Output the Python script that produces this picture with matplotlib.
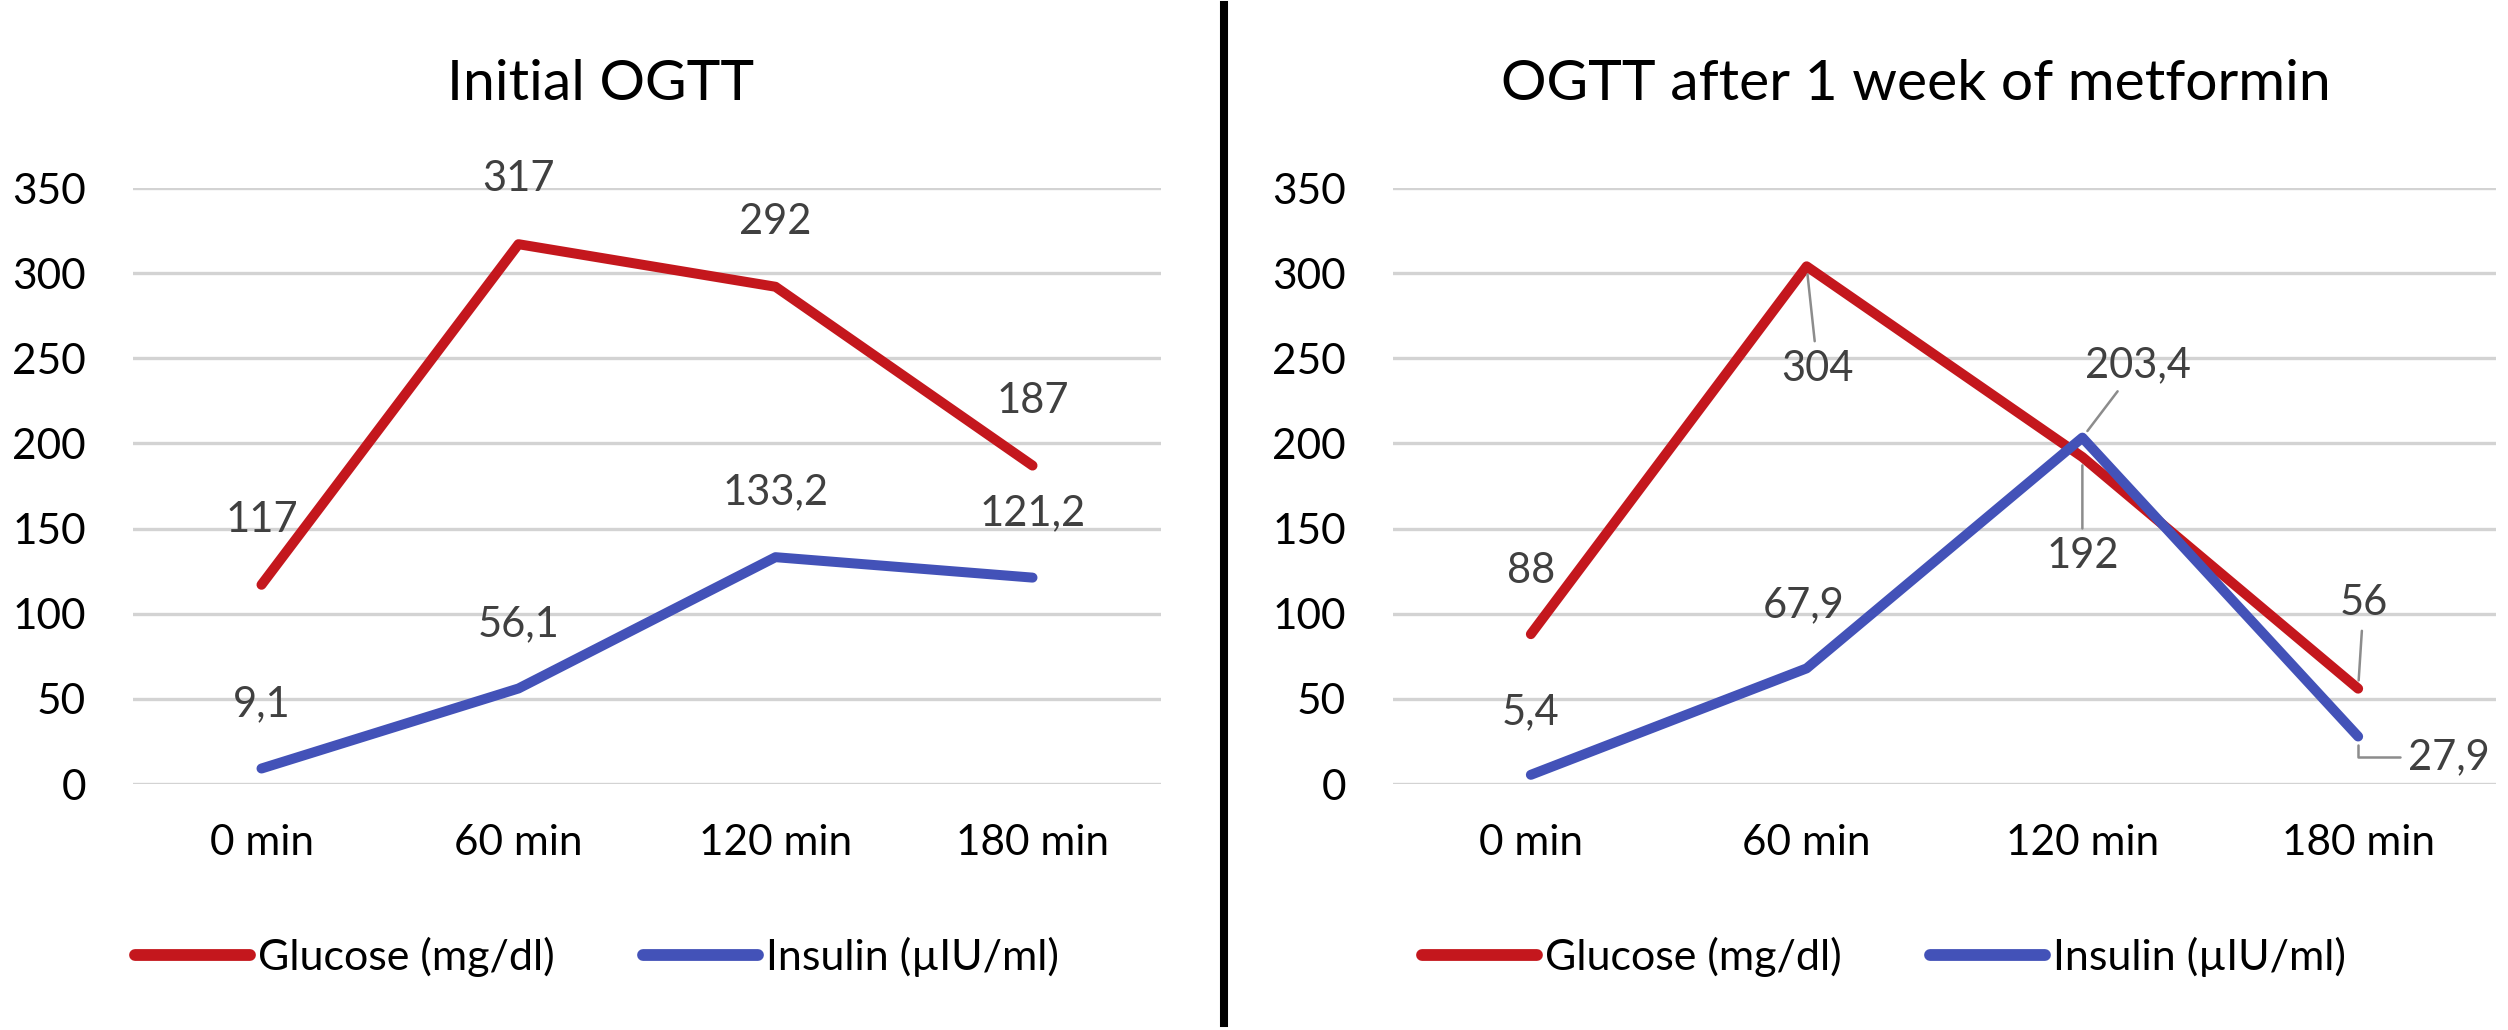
import matplotlib.pyplot as plt
from matplotlib.lines import Line2D

# data
times = ["0 min", "60 min", "120 min", "180 min"]
glucose_initial = [117, 317, 292, 187]
insulin_initial = [9.1, 56.1, 133.2, 121.2]
glucose_metformin = [88, 304, 192, 56]
insulin_metformin = [5.4, 67.9, 203.4, 27.9]
y_ticks = [0, 50, 100, 150, 200, 250, 300, 350]

RED = '#C4171D'
BLUE = '#4352B8'
GRID = '#D3D3D3'
LABEL = '#404040'

plt.rcParams['font.family'] = ['Lato', 'DejaVu Sans']

W, H = 2508, 1030
fig = plt.figure(figsize=(W / 100, H / 100), dpi=100)


def fmt(v):
    return f"{v:g}".replace('.', ',')


def make_axes(left_px, right_px, title, title_x):
    ax = fig.add_axes([left_px / W, (H - 784) / H, (right_px - left_px) / W, (784 - 188) / H])
    ax.set_xlim(-0.5, 3.5)
    ax.set_ylim(0, 350)
    ax.set_yticks(y_ticks)
    ax.set_xticks(range(len(times)))
    ax.set_xticklabels(times)
    for s in ax.spines.values():
        s.set_visible(False)
    ax.tick_params(axis='both', length=0, labelsize=30.5, colors='black')
    ax.tick_params(axis='y', pad=34)
    ax.tick_params(axis='x', pad=29)
    ax.yaxis.grid(True, color=GRID, lw=2.4)
    ax.set_axisbelow(True)
    fig.text(title_x / W, (H - 100) / H, title, ha='center', va='baseline', fontsize=41)
    return ax


def draw_lines(ax, glu, ins):
    x = range(len(times))
    lg, = ax.plot(x, glu, color=RED, lw=7.2, solid_capstyle='round', solid_joinstyle='round',
                  label='Glucose (mg/dl)', clip_on=False)
    li, = ax.plot(x, ins, color=BLUE, lw=7.2, solid_capstyle='round', solid_joinstyle='round',
                  label='Insulin (µIU/ml)', clip_on=False)
    return lg, li


def add_legend(ax, x_px):
    leg = ax.legend(loc='center left', bbox_to_anchor=(x_px / W, (H - 957) / H),
                    bbox_transform=fig.transFigure, ncol=2, frameon=False, fontsize=31,
                    handlelength=2.67, handletextpad=0.19, columnspacing=2.05,
                    borderpad=0, borderaxespad=0)
    for l in leg.get_lines():
        l.set_linewidth(8.5)
    return leg


# left panel: initial OGTT
ax1 = make_axes(133, 1161, "Initial OGTT", 601)
draw_lines(ax1, glucose_initial, insulin_initial)
for i, v in enumerate(glucose_initial):
    ax1.text(i, v + 38, fmt(v), ha='center', va='center', fontsize=30, color=LABEL)
for i, v in enumerate(insulin_initial):
    ax1.text(i, v + 38, fmt(v), ha='center', va='center', fontsize=30, color=LABEL)
add_legend(ax1, 135)

# right panel: after metformin
ax2 = make_axes(1393, 2496, "OGTT after 1 week of metformin", 1916)
draw_lines(ax2, glucose_metformin, insulin_metformin)

# label positions (category offset, value) as Excel placed them
glu_pos = [(0.0, 125), (1.04, 244), (2.0, 134), (3.02, 106)]
ins_pos = [(0.0, 42), (0.99, 105), (2.2, 246), (3.33, 16)]
glu_leader = [False, True, True, True]
ins_leader = [False, False, True, True]

for i, (v, (px, py), lead) in enumerate(zip(glucose_metformin, glu_pos, glu_leader)):
    arrow = dict(arrowstyle='-', color='#8C8C8C', lw=1.8, shrinkA=4, shrinkB=6) if lead else None
    ax2.annotate(fmt(v), xy=(i, v), xytext=(px, py), ha='center', va='center',
                 fontsize=30, color=LABEL, arrowprops=arrow, annotation_clip=False)

for i, (v, (px, py), lead) in enumerate(zip(insulin_metformin, ins_pos, ins_leader)):
    arrow = None
    if lead:
        arrow = dict(arrowstyle='-', color='#8C8C8C', lw=1.8, shrinkA=4, shrinkB=6)
        if i == 3:
            arrow['connectionstyle'] = 'angle,angleA=0,angleB=90,rad=0'
    ax2.annotate(fmt(v), xy=(i, v), xytext=(px, py), ha='center', va='center',
                 fontsize=30, color=LABEL, arrowprops=arrow, annotation_clip=False)
add_legend(ax2, 1422)

# divider between the two charts
fig.add_artist(Line2D([1224 / W, 1224 / W], [(H - 1023) / H, (H - 5) / H],
                      transform=fig.transFigure, color='black', lw=5.8))

fig.savefig('out.png', dpi=100, facecolor='white')
